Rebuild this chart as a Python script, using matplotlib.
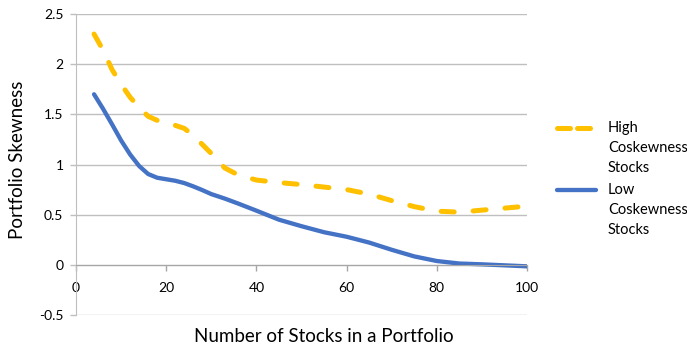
import matplotlib
matplotlib.use("Agg")
import matplotlib.pyplot as plt
from matplotlib.lines import Line2D

plt.rcParams['font.family'] = ['Lato', 'DejaVu Sans']

# number of stocks in the portfolio
n_stocks = [4, 6, 8, 10, 12, 14, 16, 18, 20, 22, 24, 26, 28, 30, 33, 36, 40,
            45, 50, 55, 60, 65, 70, 75, 80, 85, 90, 95, 100]

# portfolio skewness
high_cosk = [2.30, 2.14, 1.945, 1.80, 1.67, 1.57, 1.48, 1.44, 1.415, 1.39, 1.36,
             1.29, 1.20, 1.11, 0.965, 0.895, 0.845, 0.82, 0.80, 0.775, 0.75,
             0.705, 0.64, 0.58, 0.535, 0.525, 0.545, 0.565, 0.585]
low_cosk = [1.70, 1.555, 1.40, 1.24, 1.10, 0.985, 0.905, 0.868, 0.853, 0.838,
            0.815, 0.782, 0.745, 0.705, 0.66, 0.61, 0.54, 0.45, 0.385, 0.325,
            0.28, 0.222, 0.15, 0.084, 0.038, 0.013, 0.005, -0.005, -0.015]

labels = ['High\nCoskewness\nStocks', 'Low\nCoskewness\nStocks']
x_ticks = [0, 20, 40, 60, 80, 100]
y_ticks = [-0.5, 0, 0.5, 1, 1.5, 2, 2.5]

yellow = '#FFC000'
blue = '#4472C4'
grid_col = '#bfbfbf'

fig = plt.figure(figsize=(6.87, 3.48), dpi=100)
ax = fig.add_axes([76 / 687, 1 - 315 / 348, 451 / 687, 301 / 348])

ax.plot(n_stocks, high_cosk, color=yellow, lw=3.6, dashes=(2.6, 3.8),
        dash_capstyle='round', dash_joinstyle='round')
ax.plot(n_stocks, low_cosk, color=blue, lw=3.1, solid_capstyle='round',
        solid_joinstyle='round')

ax.set_xlim(0, 100)
ax.set_ylim(-0.5, 2.5)
ax.set_xticks(x_ticks)
ax.set_yticks(y_ticks)
ax.set_yticklabels([f'{v:g}' for v in y_ticks])

ax.grid(axis='y', color=grid_col, lw=1)
ax.set_axisbelow(True)
for s in ['top', 'right']:
    ax.spines[s].set_visible(False)
ax.spines['bottom'].set_position(('data', 0))
ax.spines['bottom'].set_color('#a6a6a6')
ax.spines['left'].set_color(grid_col)
ax.tick_params(axis='x', length=4, width=1, color='#a6a6a6', pad=8,
               labelsize=10, labelcolor='#000000')
ax.tick_params(axis='y', length=4, width=1, color=grid_col, pad=5,
               labelsize=10, labelcolor='#000000')

fig.text(18 / 687, 1 - 160 / 348, 'Portfolio Skewness', rotation=90,
         ha='center', va='center', fontsize=13.5)
fig.text(324 / 687, 1 - 337 / 348, 'Number of Stocks in a Portfolio',
         ha='center', va='center', fontsize=13.5)

# legend drawn by hand so the sample line sits on the first text row
fig.add_artist(Line2D([557 / 687, 596 / 687], [1 - 128 / 348] * 2, color=yellow,
                      lw=3.6, dashes=(2.6, 1.4), dash_capstyle='round'))
fig.add_artist(Line2D([557 / 687, 596 / 687], [1 - 190 / 348] * 2, color=blue,
                      lw=3.1, solid_capstyle='round'))
fig.text(608 / 687, 1 - 121 / 348, labels[0], ha='left', va='top',
         fontsize=10.5, linespacing=1.55)
fig.text(608 / 687, 1 - 183 / 348, labels[1], ha='left', va='top',
         fontsize=10.5, linespacing=1.55)

fig.savefig('out.png', dpi=100)
